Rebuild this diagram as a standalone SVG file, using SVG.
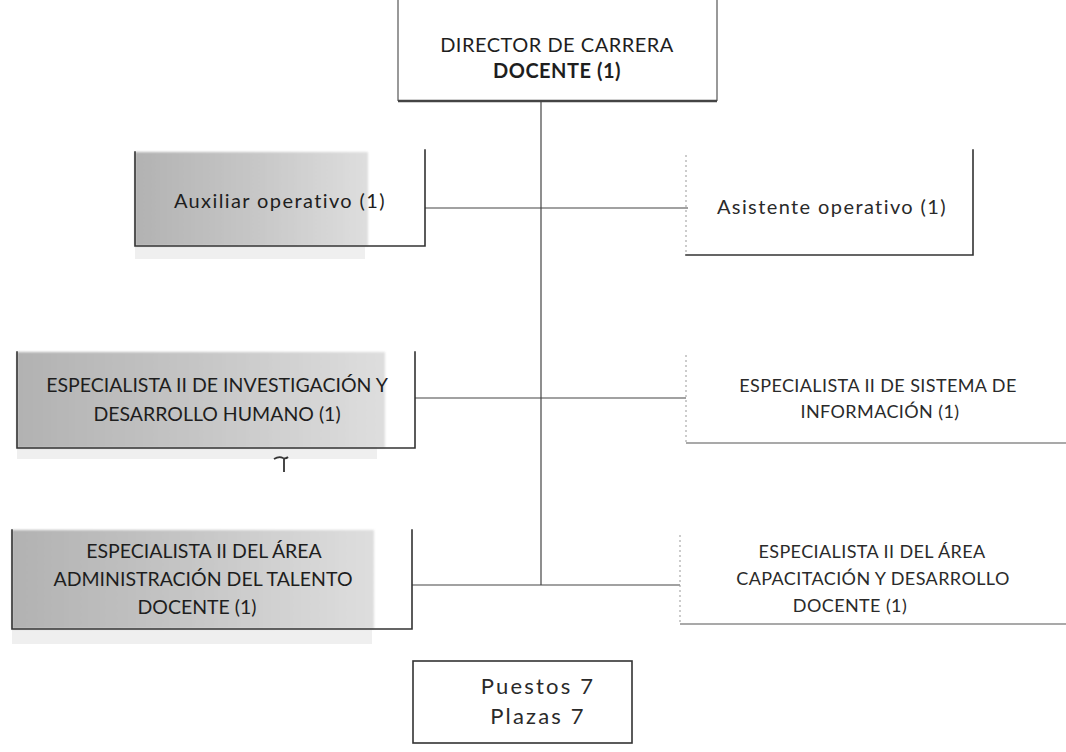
<svg xmlns="http://www.w3.org/2000/svg" width="1066" height="752" viewBox="0 0 1066 752">
  <defs>
    <linearGradient id="shade" x1="0" y1="0" x2="1" y2="0">
      <stop offset="0" stop-color="#b2b2b2"/>
      <stop offset="0.5" stop-color="#c6c6c6"/>
      <stop offset="1" stop-color="#dedede"/>
    </linearGradient>
    <filter id="soft" x="-5%" y="-5%" width="110%" height="110%">
      <feGaussianBlur stdDeviation="0.8"/>
    </filter>
  </defs>
  <style>
    .edge { fill: none; stroke: #333; stroke-width: 1.6; stroke-linecap: square; }
    .thin { fill: none; stroke: #555; stroke-width: 1.2; }
    .faint { fill: none; stroke: #999; stroke-width: 1; stroke-dasharray: 2 3; }
    .bold { fill: none; stroke: #444; stroke-width: 2.4; }
    .link { fill: none; stroke: #444; stroke-width: 1.2; }
    .under { fill: #efefef; }
    .lbl { font-family: Lato, "Open Sans", "Liberation Sans", sans-serif; font-size: 19.5px; fill: #1e1e1e; text-anchor: middle; }
    .lt { font-family: Lato, "Open Sans", "Liberation Sans", sans-serif; font-size: 18px; fill: #2a2a2a; text-anchor: middle; letter-spacing: 0.4px; }
    .head { font-size: 20px; letter-spacing: 0.5px; }
    .spaced { font-size: 20px; letter-spacing: 1.4px; }
    .count { font-size: 22px; letter-spacing: 2.2px; }
  </style>
  <rect width="1066" height="752" fill="#ffffff"/>

  <!-- connectors -->
  <g id="connectors">
    <path class="link" d="M541 102 V585"/>
    <path class="link" d="M425 208 H688"/>
    <path class="link" d="M415 398 H686"/>
    <path class="link" d="M412 585 H680"/>
  </g>

  <g id="director">
    <path class="thin" d="M398 0 V101"/>
    <path class="thin" d="M717 0 V101"/>
    <path class="bold" d="M398 101 H717"/>
    <text class="lbl head" x="557" y="52">DIRECTOR DE CARRERA</text>
    <text class="lbl head" x="557" y="78" font-weight="bold">DOCENTE (1)</text>
  </g>

  <g id="auxiliar">
    <rect class="under" x="135" y="247" width="230" height="12"/>
    <rect x="135" y="152" width="233" height="94" fill="url(#shade)" filter="url(#soft)"/>
    <path class="edge" d="M135 152 V246 H425 V150"/>
    <text class="lbl spaced" x="280" y="208">Auxiliar operativo (1)</text>
  </g>

  <g id="asistente">
    <path class="faint" d="M686 155 V254"/>
    <path class="edge" d="M686 255 H973 V150"/>
    <text class="lt spaced" x="832" y="214">Asistente operativo (1)</text>
  </g>

  <g id="investigacion">
    <rect class="under" x="17" y="447" width="360" height="12"/>
    <rect x="17" y="352" width="368" height="96" fill="url(#shade)" filter="url(#soft)"/>
    <path class="edge" d="M17 352 V448 H415 V352"/>
    <text class="lbl" x="217" y="392">ESPECIALISTA II DE INVESTIGACIÓN Y</text>
    <text class="lbl" x="217" y="421">DESARROLLO HUMANO (1)</text>
    <path fill="none" stroke="#333" stroke-width="1.8" d="M274 459 q5 -3 9 -1 q3 1 5 -1 M284 458 V472"/>
  </g>

  <g id="sistema">
    <path class="faint" d="M686 355 V442"/>
    <path class="thin" d="M686 443 H1066"/>
    <text class="lt" x="878" y="392">ESPECIALISTA II DE SISTEMA DE</text>
    <text class="lt" x="880" y="418">INFORMACIÓN (1)</text>
  </g>

  <g id="administracion">
    <rect class="under" x="12" y="630" width="360" height="14"/>
    <rect x="12" y="530" width="362" height="99" fill="url(#shade)" filter="url(#soft)"/>
    <path class="edge" d="M12 530 V629 H412 V530"/>
    <text class="lbl" x="204" y="558">ESPECIALISTA II DEL ÁREA</text>
    <text class="lbl" x="203" y="586">ADMINISTRACIÓN DEL TALENTO</text>
    <text class="lbl" x="197" y="614">DOCENTE (1)</text>
  </g>

  <g id="capacitacion">
    <path class="faint" d="M680 535 V622"/>
    <path class="thin" d="M680 624 H1066"/>
    <text class="lt" x="872" y="558">ESPECIALISTA II DEL ÁREA</text>
    <text class="lt" x="873" y="585">CAPACITACIÓN Y DESARROLLO</text>
    <text class="lt" x="850" y="612">DOCENTE (1)</text>
  </g>

  <g id="resumen">
    <rect class="edge" x="413" y="661" width="219" height="82" fill="#ffffff"/>
    <text class="lt count" x="538" y="694">Puestos 7</text>
    <text class="lt count" x="538" y="724">Plazas 7</text>
  </g>
</svg>
